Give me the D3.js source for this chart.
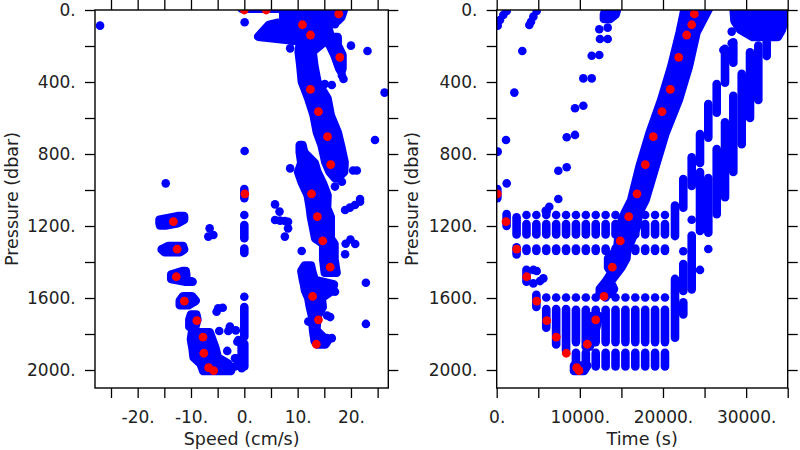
<!DOCTYPE html>
<html><head><meta charset="utf-8">
<script src="https://cdn.jsdelivr.net/npm/d3@7"></script>
<style>body{margin:0;background:#fff}svg{display:block}</style>
</head><body><svg id="c" width="800" height="450"></svg>
<script>
// ---------- axes ----------
const pressureTicks = [0,200,400,600,800,1000,1200,1400,1600,1800,2000];
const pressureLabels = [0,400,800,1200,1600,2000];
const speedTicks = [-25,-20,-15,-10,-5,0,5,10,15,20,25];
const speedLabels = [-20,-10,0,10,20];
const timeTicks = [0,5000,10000,15000,20000,25000,30000,35000];
const timeLabels = [0,10000,20000,30000];

// ---------- speed panel (speed cm/s, pressure dbar) ----------
// dense clusters: rows of [pressure, minSpeed, maxSpeed]
const speedClusters = [
  [[-8,-0.5,6.5],[-7,-0.5,6.5]],
  [[-5,7.3,18.7],[40,7.3,18.2],[60,7.9,17.5],[83,4.6,15.6],[148,2.6,16.2],[170,9,17.4]],
  [[190,10.4,14.5],[232,10.2,12.8],[306,10.5,13.1],[399,10.8,13.7],[492,12,15.6],[585,13,16.2],[678,13.6,17.5],[752,14.5,18.1],[845,15.2,18.8],[900,16,18.7],[935,17,17.5]],
  [[150,14.7,17.5],[195,16,17.5],[250,16.9,18.4],[325,17.8,18.4],[345,18.2,18.2]],
  [[750,10.4,10.9],[790,10.4,11.2],[850,10.7,13.2],[900,10.1,13.7],[960,10.8,14.7],[1030,11.9,15.6],[1100,12.3,15.5],[1150,12.5,16.2],[1269,13.3,16.2],[1300,14.8,16.9],[1385,14.8,16.9],[1460,15.1,17.3]],
  [[1420,11.3,12.5],[1450,10.7,12.7],[1500,11,13.2],[1525,11.2,16.8],[1560,11.4,16.5],[1600,12,14.5],[1650,12.3,14.7],[1700,12.7,13.7],[1780,12.9,13.5],[1840,13.2,15.6],[1858,13.6,15.2]],
  [[1145,-12.5,-11.3],[1165,-15.9,-11.3],[1185,-15.9,-12.5],[1197,-15.8,-14.8]],
  [[1312,-14.3,-11.5],[1330,-15.5,-11.3],[1345,-15,-12]],
  [[1450,-11.6,-11],[1470,-13.7,-10.9],[1495,-13.7,-10.9],[1510,-11,-9.7]],
  [[1590,-11.5,-9.8],[1615,-12.1,-9.1],[1640,-12.1,-10.5]],
  [[1692,-10,-9],[1720,-10.3,-8.8],[1760,-10.3,-9.2]],
  [[1790,-9.8,-6.5],[1830,-10,-6],[1880,-9.7,-5.4],[1930,-9.5,-5],[1965,-8.2,-3],[2005,-7.7,-2.5]]
];
// vertical runs of points: [speed, pressureTop, pressureBottom]
const speedRuns = [
  [0,995,1045],[0,1139,1139],[0,1195,1268],[0,1325,1350],[0,1593,1593],[0,1650,1815],[0,1855,1980],[-0.5,1860,1990]
];
// isolated points: [speed, pressure]
const speedPoints = [
  [-27.05,87],[-14.74,963],[0.06,68],[17,79],[20,198],[23.1,228],[26.3,459],[24.5,722],[0.06,783],[21.7,1050],
  [8.6,880],[20.4,892],[21.1,892],[17.6,935],[18.3,954],[17,981],[15.1,411],[16.4,417],[18.3,364],[18.6,383],[8.6,213],
  [5.76,1080],[6.6,1120],[5.76,1167],[6.7,1170],[7.6,1172],[8.2,1176],[8.2,1213],[7.6,1259],[10.76,1339],
  [18.9,1111],[19.8,1098],[20.75,1083],[21.7,1065],[19,1299],[19.9,1275],[20.8,1300],[18.9,1357],
  [22.8,1515],[22.8,1744],[17,1565],[15.5,1697],[16.1,1706],[12,1731],[13.5,1777],[15.5,1823],[16.4,1823],
  [-1.6,1780],[-1.3,1843],[-1.6,1935],[-0.9,1963],[-1.75,1980],[-6.5,1213],[-6.75,1259],[-5.8,1250],
  [-5.2,1676],[-4.05,1654],[-4.9,1657],[-2.7,1768],[-4.7,1783],[-3,1783],[-1.1,1833],[-3.2,1894],[-1.75,1935],[-2.7,1759]
];
// highlighted points: [speed, pressure]
const speedRed = [
  [0,0],[4.1,0],[17.7,22],[10.9,82],[12.4,139],[17.9,263],[12.4,441],[13.9,565],[15.6,704],[16.2,859],
  [12.6,1021],[0.1,1021],[13.7,1148],[-13.3,1176],[14.7,1283],[-12.6,1329],[16.1,1429],[-12.75,1482],
  [12.8,1591],[-11.25,1617],[13.9,1721],[-8.9,1726],[-7.75,1817],[13.5,1857],[-7.6,1907],[-6.7,1987],[-5.75,2004]
];

// ---------- time panel (time s, pressure dbar) ----------
// dense clusters: rows of [pressure, minTime, maxTime]
const timeClusters = [
  [[-5,22600,25500],[125,22010,24030],[315,20990,23100],[500,19790,21900],[685,18380,20300],[870,17180,19100],[1056,16180,17900],[1130,15370,17090],[1200,14800,16900],[1280,14600,16200],[1330,14500,15700],[1380,13400,15600],[1430,13400,15000],[1460,13800,14500],[1510,13100,13700],[1550,12400,14100],[1577,12400,13700]],
  [[-5,28500,34600],[60,28600,34600],[110,29300,34300],[150,30800,33800]],
  [[-5,13100,14500],[25,12900,14300],[50,12900,13600]],
  [[1975,9300,10900],[2005,9300,10500]],
  [[1700,11500,12300],[1760,11300,12000],[1830,10800,11500],[1870,10700,11200]]
];
// vertical runs of points: [time, pressureTop, pressureBottom]
const timeRuns = [
  [80,995,1045],[1190,1133,1200],[2390,1152,1247],[2390,1318,1358],
  [3580,1139,1139],[3580,1189,1247],[3580,1325,1338],[3580,1443,1510],
  [4770,1139,1139],[4770,1189,1247],[4770,1325,1338],[4770,1582,1650],
  [5960,1139,1139],[5960,1189,1247],[5960,1325,1338],[5960,1597,1597],[5960,1661,1765],
  [7150,1139,1139],[7150,1189,1247],[7150,1325,1338],[7150,1597,1597],[7150,1661,1858],
  [8340,1139,1139],[8340,1189,1247],[8340,1325,1338],[8340,1597,1597],[8340,1661,1895],
  [9530,1139,1139],[9530,1189,1247],[9530,1325,1338],[9530,1597,1597],[9530,1665,1845],[9530,1905,1980],
  [10720,1139,1139],[10720,1189,1247],[10720,1325,1338],[10720,1597,1597],[10720,1665,1845],[10720,1905,1980],
  [11910,1139,1139],[11910,1189,1247],[11910,1325,1338],[11910,1597,1597],[11910,1665,1845],[11910,1905,1980],
  [13100,1139,1139],[13100,1189,1247],[13100,1325,1338],[13100,1597,1597],[13100,1665,1845],[13100,1905,1980],
  [14290,1139,1139],[14290,1189,1247],[14290,1325,1338],[14290,1597,1597],[14290,1665,1845],[14290,1905,1980],
  [15480,1139,1139],[15480,1189,1247],[15480,1325,1338],[15480,1597,1597],[15480,1665,1845],[15480,1905,1980],
  [16670,1139,1139],[16670,1189,1247],[16670,1325,1338],[16670,1597,1597],[16670,1665,1845],[16670,1905,1980],
  [17860,1139,1139],[17860,1189,1247],[17860,1325,1338],[17860,1597,1597],[17860,1665,1845],[17860,1905,1980],
  [19050,1139,1139],[19050,1189,1247],[19050,1325,1338],[19050,1597,1597],[19050,1665,1845],[19050,1905,1980],
  [20240,1139,1139],[20240,1189,1247],[20240,1325,1338],[20240,1597,1597],[20240,1665,1845],[20240,1905,1980],
  [21446,1087,1256],[21446,1494,1821],
  [22444,939,1098],[22444,1340,1340],[22444,1411,1561],[22444,1624,1691],
  [23454,818,978],[23454,1165,1165],[23454,1253,1552],
  [24453,689,850],[24453,900,1228],[24453,1444,1444],
  [25451,522,709],[25451,933,1237],[25451,1328,1328],
  [26462,411,571],[26462,772,1135],
  [27460,216,404],[27460,624,1040],
  [28458,179,293],[28458,476,900],
  [29469,355,746],[30467,235,600],[31465,198,500],[32475,179,256]
];
// isolated points: [time, pressure]
const timePoints = [
  [1203,6],[794,28],[397,56],[120,87],[4811,6],[4410,37],[4125,65],[3925,83],
  [3080,228],[2120,459],[1119,722],[120,787],[1203,963],
  [12340,107],[13350,98],[12420,161],[13350,161],[11427,254],[12340,250],[10420,380],[11427,380],
  [9418,546],[10420,532],[8420,707],[9418,694],[7410,893],[8420,874],[7410,1050],[6327,1093],[5894,1115],[6014,1120],
  [4410,1444],[5610,1491],[4811,1450],[5208,1506],[4410,1519],
  [28266,120],[28266,185],[27260,222]
];
// highlighted points: [time, pressure]
const timeRed = [
  [23767,22],[23454,82],[22853,139],[21891,263],[20881,441],[19882,565],[18836,704],[17874,859],[16875,1021],
  [72,1021],[15877,1148],[1119,1176],[14867,1283],[2406,1329],[13904,1429],[3608,1482],[12906,1591],[4811,1617],
  [11908,1721],[6014,1726],[7169,1817],[10897,1857],[8371,1907],[9622,1987],[9899,2004]
];

// ---------- drawing ----------
const svg = d3.select('#c');
const R = 4.3;
const BLUE = '#0000ff', RED = '#ff0000';
const FONT = 'DejaVu Sans, sans-serif';
const y = d3.scaleLinear().domain([0,2100]).range([10,388]);
const xSpeed = d3.scaleLinear().domain([-28,27]).range([95,388.3]);
const xTime = d3.scaleLinear().domain([0,35000]).range([496.7,787.7]);

function drawPanel(cfg) {
  const x = cfg.x;
  const [x0,x1] = x.range(), [y0,y1] = y.range();
  svg.append('clipPath').attr('id', cfg.id)
    .append('rect').attr('x', x0).attr('y', y0).attr('width', x1-x0).attr('height', y1-y0);
  const plot = svg.append('g').attr('clip-path', `url(#${cfg.id})`);
  const area = d3.area().y(d => y(d[0])).x0(d => x(d[1])).x1(d => x(d[2]));
  plot.selectAll('path.cl').data(cfg.clusters).join('path').attr('class','cl')
    .attr('d', area).attr('fill', BLUE).attr('stroke', BLUE)
    .attr('stroke-width', 2*R).attr('stroke-linejoin','round').attr('stroke-linecap','round');
  plot.selectAll('line.run').data(cfg.runs).join('line').attr('class','run')
    .attr('x1', d => x(d[0])).attr('x2', d => x(d[0]))
    .attr('y1', d => y(d[1])).attr('y2', d => y(d[2]))
    .attr('stroke', BLUE).attr('stroke-width', 2*R).attr('stroke-linecap','round');
  plot.selectAll('circle.pt').data(cfg.points).join('circle').attr('class','pt')
    .attr('cx', d => x(d[0])).attr('cy', d => y(d[1])).attr('r', R).attr('fill', BLUE);
  plot.selectAll('circle.red').data(cfg.red).join('circle').attr('class','red')
    .attr('cx', d => x(d[0])).attr('cy', d => y(d[1])).attr('r', 4.4).attr('fill', RED);

  const styleAxis = g => {
    g.select('.domain').remove();
    g.selectAll('line').attr('stroke','#000').attr('stroke-width',1.3);
    g.selectAll('text').attr('fill','#222').attr('font-family',FONT).attr('font-size',17);
  };
  const fmt = labels => d => labels.includes(d) ? d + '.' : '';
  svg.append('g').attr('transform', `translate(0,${y1})`)
    .call(d3.axisBottom(x).tickValues(cfg.xTicks).tickSize(10).tickPadding(13.3).tickFormat(fmt(cfg.xLabels)))
    .call(styleAxis);
  svg.append('g').attr('transform', `translate(0,${y0})`)
    .call(d3.axisTop(x).tickValues(cfg.xTicks).tickSize(10).tickFormat(''))
    .call(styleAxis);
  svg.append('g').attr('transform', `translate(${x0},0)`)
    .call(d3.axisLeft(y).tickValues(pressureTicks).tickSize(10).tickPadding(9.3).tickFormat(fmt(pressureLabels)))
    .call(styleAxis);
  svg.append('g').attr('transform', `translate(${x1},0)`)
    .call(d3.axisRight(y).tickValues(pressureTicks).tickSize(10).tickFormat(''))
    .call(styleAxis);
  svg.append('rect').attr('x', x0).attr('y', y0).attr('width', x1-x0).attr('height', y1-y0)
    .attr('fill','none').attr('stroke','#000').attr('stroke-width',1.4);

  svg.append('text').attr('x', (x0+x1)/2).attr('y', 445).attr('text-anchor','middle')
    .attr('font-family', FONT).attr('font-size', 17.5).attr('fill','#222').text(cfg.title);
  const yl = cfg.yTitleX, yc = (y0+y1)/2;
  svg.append('text').attr('x', yl).attr('y', yc).attr('transform', `rotate(-90,${yl},${yc})`)
    .attr('text-anchor','middle').attr('font-family', FONT).attr('font-size', 17.5).attr('fill','#222')
    .text('Pressure (dbar)');
}

drawPanel({id:'clipL', x:xSpeed, clusters:speedClusters, runs:speedRuns, points:speedPoints, red:speedRed,
  xTicks:speedTicks, xLabels:speedLabels, title:'Speed (cm/s)', yTitleX:17.5});
drawPanel({id:'clipR', x:xTime, clusters:timeClusters, runs:timeRuns, points:timePoints, red:timeRed,
  xTicks:timeTicks, xLabels:timeLabels, title:'Time (s)', yTitleX:417.5});
</script>
</body></html>
